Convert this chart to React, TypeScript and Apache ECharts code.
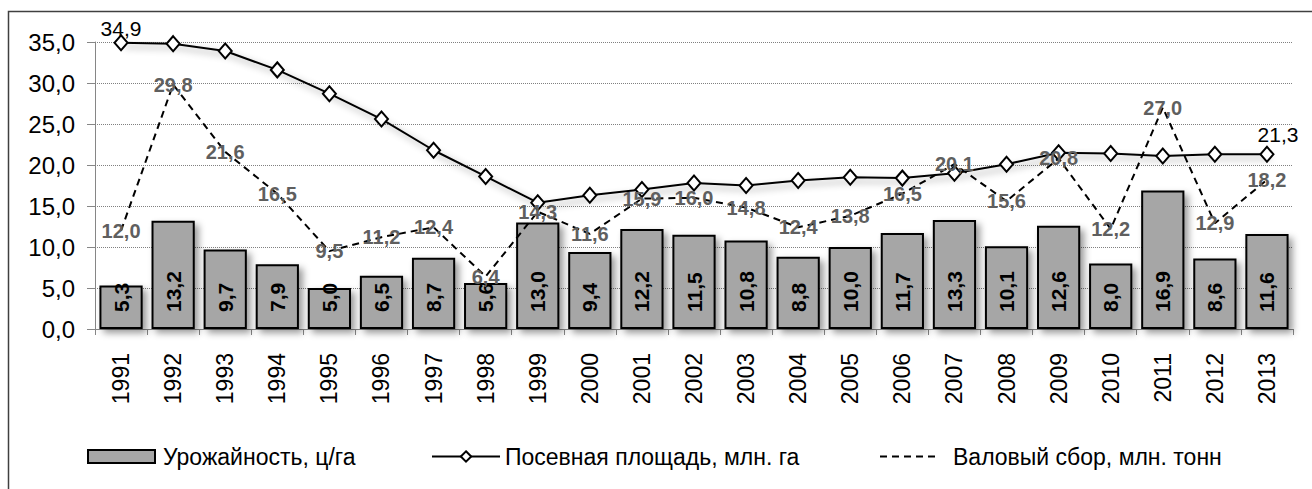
import React, { useEffect, useRef } from 'react';
import * as echarts from 'echarts';

const years = ['1991','1992','1993','1994','1995','1996','1997','1998','1999','2000','2001','2002','2003','2004','2005','2006','2007','2008','2009','2010','2011','2012','2013'];
const yieldValues = [5.3,13.2,9.7,7.9,5.0,6.5,8.7,5.6,13.0,9.4,12.2,11.5,10.8,8.8,10.0,11.7,13.3,10.1,12.6,8.0,16.9,8.6,11.6];
const areaValues = [34.9,34.8,33.9,31.6,28.7,25.6,21.8,18.6,15.4,16.3,17.0,17.8,17.5,18.1,18.5,18.4,19.0,20.1,21.5,21.4,21.1,21.3,21.3];
const grossValues = [12.0,29.8,21.6,16.5,9.5,11.2,12.4,6.4,14.3,11.6,15.9,16.0,14.8,12.4,13.8,16.5,20.1,15.6,20.8,12.2,27.0,12.9,18.2];
const seriesNames = ['Урожайность, ц/га', 'Посевная площадь, млн. га', 'Валовый сбор, млн. тонн'];

const FONT = '"Liberation Sans", Arial, sans-serif';
const fmt = (v: number) => v.toFixed(1).replace('.', ',');

export default function App() {
  const ref = useRef<HTMLDivElement>(null);
  useEffect(() => {
    const chart = echarts.init(ref.current!, null, { renderer: 'svg' });
    const last = areaValues.length - 1;
    const shadow = { shadowBlur: 7, shadowColor: 'rgba(0,0,0,0.4)', shadowOffsetX: 4, shadowOffsetY: 4 };
    const legendText = { fontSize: 23, color: '#000', fontFamily: FONT };
    chart.setOption({
      animation: false,
      textStyle: { fontFamily: FONT },
      graphic: [
        {
          type: 'rect',
          silent: true,
          shape: { x: 8.5, y: 11.5, width: 1400, height: 600 },
          style: { fill: 'none', stroke: '#404040', lineWidth: 1.5 },
        },
      ],
      grid: { left: 95, right: 19, top: 42, bottom: 160, containLabel: false },
      legend: [
        {
          data: [{ name: seriesNames[0], icon: 'rect' }], left: 87, top: 445, padding: 0, itemWidth: 67, itemHeight: 13,
          textStyle: { ...legendText, padding: [0, 0, 0, 3] },
        },
        {
          data: [seriesNames[1]], left: 431, top: 445, padding: 0, itemWidth: 68, itemHeight: 13,
          textStyle: { ...legendText },
        },
        {
          data: [seriesNames[2]], left: 879, top: 445, padding: 0, itemWidth: 60, itemHeight: 13,
          textStyle: { ...legendText, padding: [0, 0, 0, 8] },
        },
      ],
      xAxis: {
        type: 'category',
        data: years,
        boundaryGap: true,
        axisLine: { lineStyle: { color: '#868686', width: 1 } },
        axisTick: { show: true, length: 6, lineStyle: { color: '#868686' } },
        axisLabel: { interval: 0, rotate: 90, fontSize: 23, color: '#000', margin: 24, fontFamily: FONT },
      },
      yAxis: {
        type: 'value',
        min: 0,
        max: 35,
        interval: 5,
        axisLine: { show: true, lineStyle: { color: '#868686', width: 1 } },
        axisTick: { show: true, length: 8, lineStyle: { color: '#868686' } },
        axisLabel: { formatter: (v: number) => fmt(v), fontSize: 24, color: '#000', margin: 20, fontFamily: FONT },
        splitLine: { show: true, lineStyle: { color: '#808080', width: 1, type: [1, 1] } },
      },
      series: [
        {
          name: seriesNames[0],
          type: 'bar',
          data: yieldValues,
          barCategoryGap: '17%',
          itemStyle: { color: '#a6a6a6', borderColor: '#000', borderWidth: 2, ...shadow },
          label: {
            show: true,
            position: 'insideBottom',
            rotate: 90,
            align: 'left',
            verticalAlign: 'middle',
            distance: 17,
            fontSize: 21,
            fontWeight: 'bold',
            color: '#000',
            fontFamily: FONT,
            formatter: (p: any) => fmt(p.value),
          },
          z: 2,
        },
        {
          name: seriesNames[1],
          type: 'line',
          data: areaValues.map((v, i) => ({
            value: v,
            label: i === 0
              ? { show: true, position: 'top', distance: 1, offset: [0, 6] }
              : i === last
              ? { show: true, position: 'top', distance: 1, offset: [11, 0] }
              : { show: false },
          })),
          symbol: 'diamond',
          symbolSize: [13, 15],
          itemStyle: { color: '#fff', borderColor: '#000', borderWidth: 2 },
          lineStyle: { color: '#000', width: 2, ...shadow },
          label: { fontSize: 21, color: '#000', fontFamily: FONT, formatter: (p: any) => fmt(p.value) },
          z: 3,
        },
        {
          name: seriesNames[2],
          type: 'line',
          data: grossValues,
          symbol: 'circle',
          symbolSize: 2,
          itemStyle: { color: 'rgba(0,0,0,0)' },
          lineStyle: { color: '#000', width: 2, type: [7, 5] },
          label: {
            show: true,
            position: 'inside',
            fontSize: 20,
            fontWeight: 'bold',
            color: '#5f5f5f',
            fontFamily: FONT,
            formatter: (p: any) => fmt(p.value),
          },
          z: 4,
        },
      ],
    });
    return () => chart.dispose();
  }, []);
  return <div ref={ref} style={{ position: 'absolute', left: 0, top: 0, width: 1312, height: 489 }} />;
}
